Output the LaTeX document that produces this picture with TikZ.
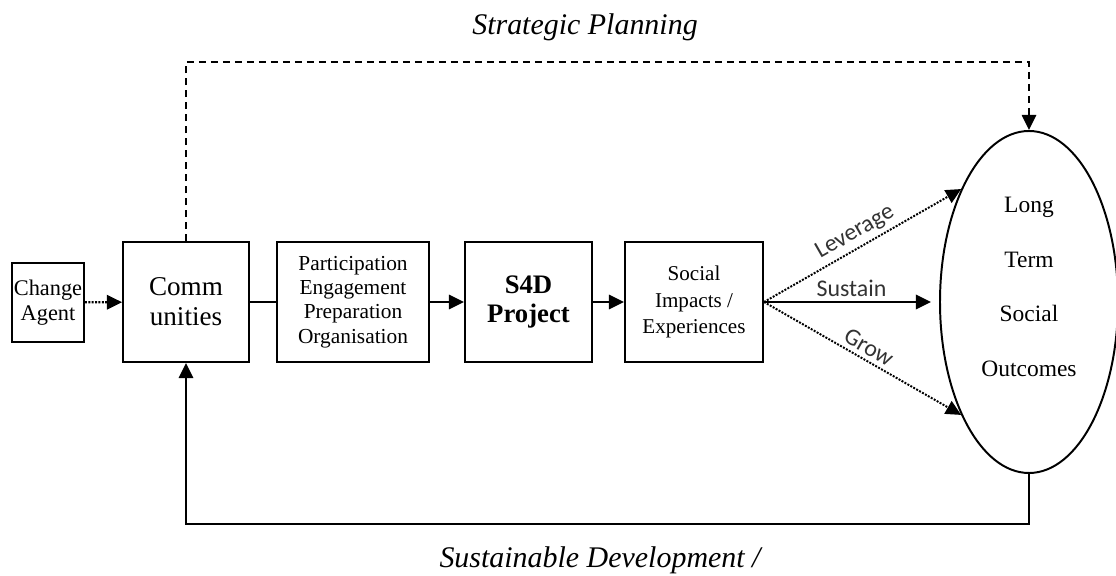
\documentclass[tikz,border=0pt]{standalone}
\usepackage{fontspec}
\setmainfont{Liberation Serif}
\newfontfamily\flowfont{Carlito}
\usetikzlibrary{arrows.meta,shapes.geometric}

\begin{document}
\begin{tikzpicture}[
  box/.style={draw,line width=1.4pt,align=center,inner sep=0pt,minimum height=3cm},
  tip/.style={line width=1.4pt,-{Triangle[length=0.38cm,width=0.36cm]}},
  flow/.style={midway,above,sloped,inner sep=3pt,font=\flowfont\fontsize{17}{20}\selectfont,text=black!80}
]
\useasboundingbox (0,0) rectangle (27.9,14.4);
\node[box,minimum width=1.8cm,minimum height=1.975cm,font=\fontsize{15.9}{17.8}\selectfont] (agent) at (1.2,6.84) {Change\\Agent};
\node[box,minimum width=3.15cm,font=\fontsize{19.3}{21.3}\selectfont] (comm) at (4.65,6.85) {Comm\\unities};
\node[box,minimum width=3.8cm,font=\fontsize{15.2}{17.4}\selectfont] (part) at (8.825,6.85) {Participation\\Engagement\\Preparation\\Organisation};
\node[box,minimum width=3.175cm,font=\fontsize{19}{21.3}\selectfont\bfseries] (s4d) at (13.2125,6.85) {S4D\\Project};
\node[box,minimum width=3.45cm,font=\fontsize{15}{19}\selectfont] (social) at (17.35,6.85) {Social\\Impacts /\\Experiences};
\node[ellipse,draw,line width=1.4pt,minimum width=4.45cm,minimum height=8.55cm,inner sep=0pt,align=center,text depth=0.76cm,font=\fontsize{16.7}{39}\selectfont] (outcomes) at (25.725,6.85) {Long\\Term\\Social\\Outcomes};

\draw[tip,densely dotted,line width=1.6pt] (agent) -- (comm);
\draw[line width=1.4pt] (comm) -- (part);
\draw[tip] (part) -- (s4d);
\draw[tip] (s4d) -- (social);
\draw[tip,densely dotted,line width=1.4pt] (social.east) -- node[flow] {Leverage} (outcomes.121);
\draw[tip,line width=1.8pt,shorten >=0.2cm] (social.east) -- node[flow] {Sustain} (outcomes.west);
\draw[tip,densely dotted,line width=1.4pt] (social.east) -- node[flow] {Grow} (outcomes.-121);

\draw[tip,dash pattern=on 0.18cm off 0.12cm] (comm.north) -- ++(0,4.475) -| (outcomes.north);
\draw[tip] (outcomes.south) -- ++(0,-1.25) -| (comm.south);

\node[anchor=base,font=\fontsize{21.3}{24}\selectfont\itshape] (plan) at (14.625,13.525) {Strategic Planning};
\node[anchor=base,font=\fontsize{21.3}{24}\selectfont\itshape] (dev) at (15,0.2) {Sustainable Development /};
\end{tikzpicture}
\end{document}
